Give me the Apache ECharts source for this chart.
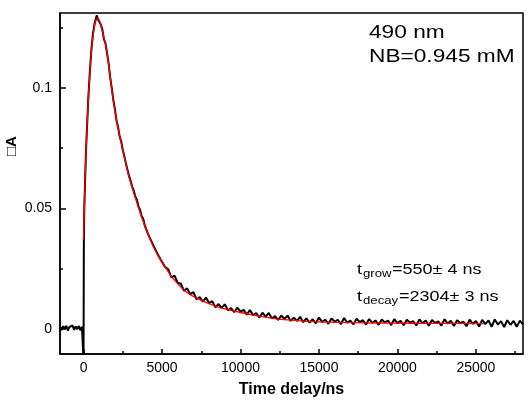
<!DOCTYPE html>
<html>
<head>
<meta charset="utf-8">
<script src="https://cdn.jsdelivr.net/npm/echarts@6/dist/echarts.min.js"></script>
<style>
  html, body { margin: 0; padding: 0; background: #fff; }
  #chart { width: 529px; height: 403px; }
</style>
</head>
<body>
<div id="chart"></div>
<script>
// measured transient (black) - time in ns, signal in dA
var rawTime = [
  -1500, -1400, -1300, -1200, -1100, -1000, -900, -800, -700, -600, -500, -400, -300, -200, -100, -20, 0, 20,
  50, 100, 150, 200, 300, 400, 500, 600, 700, 800, 850, 900, 1000, 1100, 1200, 1300, 1400, 1500,
  1600, 1700, 1800, 1900, 2000, 2100, 2200, 2300, 2400, 2500, 2600, 2700, 2800, 2900, 3000,
  3100, 3200, 3300, 3400, 3500, 3600, 3700, 3800, 3900, 4000, 4100, 4200, 4300, 4400, 4500,
  4600, 4700, 4800, 4900,
  5000, 5200, 5400, 5600, 5800, 6000, 6200, 6400, 6600, 6800, 7000, 7200, 7400, 7600, 7800,
  8000, 8200, 8400, 8600, 8800, 9000, 9200, 9400, 9600, 9800, 10000, 10200, 10400, 10600, 10800,
  11000, 11200, 11400, 11600, 11800, 12000, 12200, 12400, 12600, 12800, 13000, 13200, 13400, 13600, 13800,
  14000, 14200, 14400, 14600, 14800, 15000, 15200, 15400, 15600, 15800, 16000, 16200, 16400, 16600, 16800,
  17000, 17200, 17400, 17600, 17800, 18000, 18200, 18400, 18600, 18800, 19000, 19200, 19400, 19600, 19800,
  20000, 20200, 20400, 20600, 20800, 21000, 21200, 21400, 21600, 21800, 22000, 22200, 22400, 22600, 22800,
  23000, 23200, 23400, 23600, 23800, 24000, 24200, 24400, 24600, 24800, 25000, 25200, 25400, 25600, 25800,
  26000, 26200, 26400, 26600, 26800, 27000, 27200, 27400, 27600, 27800, 28000
];
var rawSignal = [
  0.0010, -0.0004, 0.0012, 0.0002, 0.0014, -0.0006, 0.0009, 0.0001, 0.0015, -0.0003, 0.0011, 0.0000, 0.0013, -0.0005, 0.0010, 0.0016, -0.0130, 0.0360,
  0.0510, 0.0615, 0.0728, 0.0805, 0.0952, 0.1066, 0.1158, 0.1224, 0.1264, 0.1291, 0.1300, 0.1286, 0.1286, 0.1262, 0.1241, 0.1202, 0.1184, 0.1143,
  0.1100, 0.1042, 0.0998, 0.0949, 0.0910, 0.0865, 0.0838, 0.0798, 0.0778, 0.0742, 0.0716, 0.0686, 0.0660, 0.0634, 0.0615,
  0.0590, 0.0574, 0.0549, 0.0536, 0.0508, 0.0495, 0.0468, 0.0458, 0.0430, 0.0422, 0.0396, 0.0389, 0.0368, 0.0361, 0.0340,
  0.0334, 0.0314, 0.0309, 0.0290,
  0.0295, 0.0257, 0.0248, 0.0214, 0.0222, 0.0192, 0.0188, 0.0159, 0.0169, 0.0145, 0.0153, 0.0124, 0.0133, 0.0114, 0.0131,
  0.0108, 0.0116, 0.0090, 0.0104, 0.0088, 0.0103, 0.0078, 0.0087, 0.0070, 0.0089, 0.0073, 0.0080, 0.0060, 0.0079, 0.0058,
  0.0067, 0.0048, 0.0068, 0.0052, 0.0067, 0.0044, 0.0054, 0.0038, 0.0056, 0.0043, 0.0056, 0.0034, 0.0048, 0.0034, 0.0051,
  0.0029, 0.0045, 0.0027, 0.0041, 0.0024, 0.0048, 0.0030, 0.0039, 0.0022, 0.0044, 0.0031, 0.0038, 0.0021, 0.0046, 0.0027,
  0.0035, 0.0020, 0.0043, 0.0029, 0.0037, 0.0019, 0.0042, 0.0026, 0.0036, 0.0018, 0.0040, 0.0028, 0.0035, 0.0017, 0.0041,
  0.0025, 0.0034, 0.0016, 0.0039, 0.0027, 0.0033, 0.0015, 0.0040, 0.0024, 0.0036, 0.0014, 0.0038, 0.0026, 0.0032, 0.0015,
  0.0041, 0.0023, 0.0035, 0.0013, 0.0037, 0.0025, 0.0031, 0.0012, 0.0039, 0.0022, 0.0034, 0.0011, 0.0038, 0.0021, 0.0036,
  0.0010, 0.0040, 0.0019, 0.0033, 0.0009, 0.0037, 0.0018, 0.0034, 0.0010, 0.0035, 0.0020
];

// bi-exponential fit (red)
var fitTime = [
  0, 50, 100, 150, 200, 300, 400, 500, 600, 700, 800, 900, 1000, 1100, 1200, 1300, 1400, 1500, 1600, 1700,
  1800, 2000, 2200, 2500, 2900, 3300, 3700, 4200, 4700, 5200, 5700, 6400, 7000, 7500, 8500, 9000,
  10000, 11000, 12000, 13000, 14000, 15000, 16000, 18000, 20000, 22000, 25500
];
var fitSignal = [
  0.0370, 0.0500, 0.0620, 0.0720, 0.0810, 0.0945, 0.1060, 0.1150, 0.1215, 0.1258, 0.1282, 0.1288, 0.1280, 0.1262, 0.1236, 0.1206, 0.1180, 0.1145, 0.1095, 0.1045,
  0.0993, 0.0905, 0.0832, 0.0742, 0.0630, 0.0545, 0.0465, 0.0378, 0.0310, 0.0258, 0.0210, 0.0162, 0.0135, 0.0119, 0.0093, 0.0084,
  0.0069, 0.0056, 0.0046, 0.0038, 0.0033, 0.0030, 0.0028, 0.0026, 0.0025, 0.0024, 0.0023
];

var xMajor = [0, 5000, 10000, 15000, 20000, 25000];
var xMinor = [2500, 7500, 12500, 17500, 22500, 27500];
var yMajor = [0, 0.05, 0.1];
var yMinor = [0.025, 0.075, 0.125];

var font = '"Liberation Sans", Arial, sans-serif';

function zip(a, b) {
  var out = [];
  for (var i = 0; i < a.length; i++) out.push([a[i], b[i]]);
  return out;
}

var chart = echarts.init(document.getElementById('chart'), null, { renderer: 'canvas' });

var xMin = -1500, xMax = 28000, yMin = -0.0103, yMax = 0.131;

var option = {
  animation: false,
  backgroundColor: '#fff',
  grid: {
    left: 60, top: 13, right: 6, bottom: 47,
    show: true, borderColor: '#000', borderWidth: 1.5, backgroundColor: 'transparent'
  },
  xAxis: [
    {
      type: 'value', min: xMin, max: xMax,
      name: 'Time delay/ns', nameLocation: 'middle', nameGap: 28,
      nameTextStyle: { fontFamily: font, fontWeight: 'bold', fontSize: 16, color: '#000' },
      axisLine: { show: true, onZero: false, lineStyle: { color: '#000', width: 1.5 } },
      axisTick: { show: true, inside: true, length: 5, customValues: xMajor, lineStyle: { color: '#000', width: 1.5 } },
      axisLabel: { show: true, customValues: xMajor, margin: 7, fontFamily: font, fontSize: 14, color: '#000',
        formatter: function (v) { return String(v); } },
      splitLine: { show: false }
    },
    {
      type: 'value', min: xMin, max: xMax, position: 'bottom',
      axisLine: { show: false, onZero: false },
      axisTick: { show: true, inside: true, length: 3, customValues: xMinor, lineStyle: { color: '#000', width: 1.5 } },
      axisLabel: { show: false },
      splitLine: { show: false }
    }
  ],
  yAxis: [
    {
      type: 'value', min: yMin, max: yMax,
      axisLine: { show: true, onZero: false, lineStyle: { color: '#000', width: 1.5 } },
      axisTick: { show: true, inside: true, length: 6, customValues: yMajor, lineStyle: { color: '#000', width: 1.5 } },
      axisLabel: { show: true, customValues: yMajor, margin: 8, fontFamily: font, fontSize: 14, color: '#000',
        formatter: function (v) { return String(+v.toFixed(3)); } },
      splitLine: { show: false }
    },
    {
      type: 'value', min: yMin, max: yMax, position: 'left',
      axisLine: { show: false, onZero: false },
      axisTick: { show: true, inside: true, length: 3, customValues: yMinor, lineStyle: { color: '#000', width: 1.5 } },
      axisLabel: { show: false },
      splitLine: { show: false }
    }
  ],
  graphic: [
    { type: 'text', x: 12, y: 146, rotation: Math.PI / 2,
      style: { text: '\u25A1A', font: 'bold 15px ' + font, fill: '#000', align: 'center', verticalAlign: 'middle' } },
    { type: 'text', x: 369, y: 33, scaleX: 1.26,
      style: { text: '490 nm', font: '18px ' + font, fill: '#000', align: 'left', verticalAlign: 'middle' } },
    { type: 'text', x: 369, y: 57, scaleX: 1.26,
      style: { text: 'NB=0.945 mM', font: '18px ' + font, fill: '#000', align: 'left', verticalAlign: 'middle' } },
    { type: 'text', x: 357, y: 270, scaleX: 1.2,
      style: { text: 't', font: '15px ' + font, fill: '#000', align: 'left', verticalAlign: 'middle' } },
    { type: 'text', x: 363, y: 273.6, scaleX: 1.2,
      style: { text: 'grow', font: '11px ' + font, fill: '#000', align: 'left', verticalAlign: 'middle' } },
    { type: 'text', x: 392, y: 270, scaleX: 1.2,
      style: { text: '=550\u00B1 4 ns', font: '15px ' + font, fill: '#000', align: 'left', verticalAlign: 'middle' } },
    { type: 'text', x: 357, y: 296.4, scaleX: 1.2,
      style: { text: 't', font: '15px ' + font, fill: '#000', align: 'left', verticalAlign: 'middle' } },
    { type: 'text', x: 363, y: 300.7, scaleX: 1.2,
      style: { text: 'decay', font: '11px ' + font, fill: '#000', align: 'left', verticalAlign: 'middle' } },
    { type: 'text', x: 399, y: 296.4, scaleX: 1.2,
      style: { text: '=2304\u00B1 3 ns', font: '15px ' + font, fill: '#000', align: 'left', verticalAlign: 'middle' } }
  ],
  series: [
    {
      name: 'data', type: 'line', xAxisIndex: 0, yAxisIndex: 0,
      data: zip(rawTime, rawSignal),
      showSymbol: false, clip: true,
      lineStyle: { color: '#000', width: 2 }
    },
    {
      name: 'fit', type: 'line', xAxisIndex: 0, yAxisIndex: 0,
      data: zip(fitTime, fitSignal),
      showSymbol: false, smooth: 0.3, clip: true,
      lineStyle: { color: '#ff0000', width: 1.3 }
    }
  ]
};

chart.setOption(option);
</script>
</body>
</html>
